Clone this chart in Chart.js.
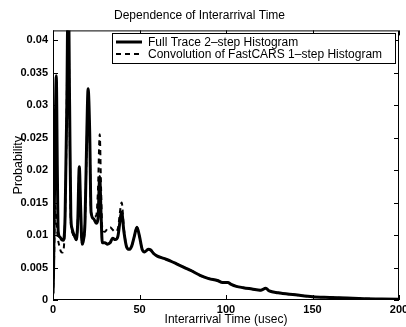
<!DOCTYPE html>
<html>
<head>
<meta charset="utf-8">
<script src="https://cdn.jsdelivr.net/npm/chart.js@4"></script>
<style>
  html, body { margin: 0; padding: 0; background: #fff; }
</style>
</head>
<body>
<canvas id="chart" width="406" height="327"></canvas>
<script>
const fullTraceX = [0, 0.3, 1.2, 1.9, 2.5, 3, 4, 5, 6, 7, 8, 8.8, 9.6, 10.3, 11, 12.5, 13.5, 14.3, 15.2, 16, 16.8, 17.6, 18.5, 19.5, 20.3, 21.2, 22, 23.5, 25, 26, 27, 27.8, 28.5, 30, 31.5, 33, 34.5, 36, 37.5, 39.7, 41, 42.5, 44, 45.5, 47, 48.5, 50, 51.5, 53, 55, 56.5, 58, 60, 64, 68, 72, 76, 80, 85, 90, 95, 98, 101, 103, 106, 110, 115, 120, 123, 125, 130, 140, 150, 160, 170, 180, 190, 200];
const fullTraceY = [0.001, 0.004, 0.024, 0.0345, 0.02, 0.0105, 0.0097, 0.0093, 0.0092, 0.013, 0.03, 0.05, 0.03, 0.013, 0.011, 0.0098, 0.0093, 0.012, 0.0205, 0.014, 0.0087, 0.0092, 0.012, 0.025, 0.0325, 0.026, 0.0135, 0.0125, 0.0118, 0.0125, 0.019, 0.013, 0.0088, 0.0088, 0.0086, 0.0088, 0.0095, 0.0093, 0.0098, 0.0135, 0.0105, 0.0082, 0.0078, 0.0083, 0.0098, 0.0112, 0.0098, 0.0078, 0.0074, 0.0078, 0.0077, 0.0072, 0.0068, 0.0064, 0.006, 0.0055, 0.005, 0.0045, 0.0038, 0.0033, 0.003, 0.0027, 0.0027, 0.0024, 0.0021, 0.0019, 0.0017, 0.0015, 0.0018, 0.0014, 0.0011, 0.0008, 0.0005, 0.0004, 0.0003, 0.0002, 0.00015, 0.0001];

const convX = [0, 0.6, 1.2, 2, 2.8, 3.5, 4.5, 5.5, 6.5, 7.5, 8.8, 9.6, 10.3, 11, 12.5, 13.5, 14.3, 15.2, 16, 16.8, 17.6, 18.5, 19.5, 20.3, 21.2, 22, 23.5, 25, 26, 27, 27.8, 28.5, 30, 31.5, 33, 34.5, 36, 37.5, 39.7, 41, 42.5, 44, 45.5, 47, 48.5, 50, 51.5, 53, 55, 56.5, 58, 60, 64, 68, 72, 76, 80, 85, 90, 95, 98, 101, 103, 106, 110, 115, 120, 123, 125, 130, 140, 150, 160, 170, 180, 190, 200];
const convY = [0.0005, 0.006, 0.0145, 0.012, 0.0095, 0.0085, 0.0075, 0.0073, 0.009, 0.02, 0.046, 0.028, 0.012, 0.0105, 0.0095, 0.0092, 0.012, 0.02, 0.013, 0.0085, 0.009, 0.012, 0.024, 0.031, 0.025, 0.0135, 0.0128, 0.013, 0.017, 0.0255, 0.017, 0.011, 0.0105, 0.011, 0.0112, 0.0108, 0.0105, 0.011, 0.015, 0.011, 0.0082, 0.0078, 0.0083, 0.0098, 0.0112, 0.0098, 0.0078, 0.0074, 0.0078, 0.0077, 0.0072, 0.0068, 0.0064, 0.006, 0.0055, 0.005, 0.0045, 0.0038, 0.0033, 0.003, 0.0027, 0.0027, 0.0024, 0.0021, 0.0019, 0.0017, 0.0015, 0.0018, 0.0014, 0.0011, 0.0008, 0.0005, 0.0004, 0.0003, 0.0002, 0.00015, 0.0001];

const xTicks = [0, 50, 100, 150, 200];
const yTicks = [0, 0.005, 0.01, 0.015, 0.02, 0.025, 0.03, 0.035, 0.04];
const yTickLabels = ['0', '0.005', '0.01', '0.015', '0.02', '0.025', '0.03', '0.035', '0.04'];

const seriesLabels = ['Full Trace 2\u2013step Histogram', 'Convolution of FastCARS 1\u2013step Histogram'];

const FONT = 'Liberation Sans, Arial, Helvetica, sans-serif';

const toPoints = (xs, ys) => xs.map((x, i) => ({ x, y: ys[i] }));

// box round the plot with matlab style inward ticks, plus the legend
const framePlugin = {
  id: 'frame',
  afterDraw(chart) {
    const { ctx, chartArea: a, scales } = chart;
    ctx.save();
    ctx.strokeStyle = '#000';
    ctx.lineWidth = 1;
    ctx.strokeRect(a.left + 0.5, a.top + 0.5, a.right - a.left - 1, a.bottom - a.top - 1);
    ctx.beginPath();
    xTicks.forEach((v) => {
      const px = Math.round(scales.x.getPixelForValue(v)) + 0.5;
      ctx.moveTo(px, a.bottom); ctx.lineTo(px, a.bottom - 5);
      ctx.moveTo(px, a.top); ctx.lineTo(px, a.top + 5);
    });
    yTicks.forEach((v) => {
      const py = Math.round(scales.y.getPixelForValue(v)) + 0.5;
      ctx.moveTo(a.left, py); ctx.lineTo(a.left + 5, py);
      ctx.moveTo(a.right, py); ctx.lineTo(a.right - 5, py);
    });
    ctx.stroke();

    // legend
    const lx = 112, ly = 33, lw = 283, lh = 30;
    ctx.fillStyle = '#fff';
    ctx.fillRect(lx, ly, lw, lh);
    ctx.strokeRect(lx + 0.5, ly + 0.5, lw, lh);
    ctx.font = '12px ' + FONT;
    ctx.fillStyle = '#000';
    ctx.textBaseline = 'middle';
    chart.data.datasets.forEach((ds, i) => {
      const y = ly + 9 + i * 12;
      ctx.lineWidth = ds.borderWidth;
      ctx.setLineDash(ds.borderDash || []);
      ctx.beginPath();
      ctx.moveTo(lx + 4, y); ctx.lineTo(lx + 30, y);
      ctx.stroke();
      ctx.setLineDash([]);
      ctx.fillText(ds.label, lx + 36, y + 1);
    });
    ctx.restore();
  },
};

new Chart(document.getElementById('chart'), {
  type: 'line',
  data: {
    datasets: [
      {
        label: seriesLabels[0],
        data: toPoints(fullTraceX, fullTraceY),
        borderColor: '#000',
        borderWidth: 3,
        pointRadius: 0,
        cubicInterpolationMode: 'monotone',
      },
      {
        label: seriesLabels[1],
        data: toPoints(convX, convY),
        borderColor: '#000',
        borderWidth: 2,
        borderDash: [5, 4],
        pointRadius: 0,
        cubicInterpolationMode: 'monotone',
      },
    ],
  },
  options: {
    responsive: false,
    animation: false,
    devicePixelRatio: 1,
    layout: { padding: { left: 0, right: 7, top: 0, bottom: 0 } },
    plugins: {
      legend: { display: false },
      tooltip: { enabled: false },
      title: {
        display: true,
        text: 'Dependence of Interarrival Time',
        color: '#000',
        font: { family: FONT, size: 12, weight: 'normal' },
        padding: { top: 8, bottom: 8 },
      },
    },
    scales: {
      x: {
        type: 'linear',
        min: 0,
        max: 200,
        grid: { display: false, drawTicks: false },
        border: { display: false },
        afterBuildTicks: (s) => { s.ticks = xTicks.map((value) => ({ value })); },
        afterFit: (s) => { s.height = 27; s.paddingLeft = 0; s.paddingRight = 0; },
        ticks: {
          color: '#000',
          padding: 3,
          maxRotation: 0,
          font: { family: FONT, size: 11, weight: 'bold' },
        },
        title: {
          display: true,
          text: 'Interarrival Time (usec)',
          color: '#000',
          font: { family: FONT, size: 12 },
          padding: { top: 0, bottom: 0 },
        },
      },
      y: {
        type: 'linear',
        min: 0,
        max: 0.0415,
        grid: { display: false, drawTicks: false },
        border: { display: false },
        afterBuildTicks: (s) => { s.ticks = yTicks.map((value) => ({ value })); },
        afterFit: (s) => { s.width = 53; s.paddingTop = 0; s.paddingBottom = 0; },
        ticks: {
          color: '#000',
          padding: 5,
          font: { family: FONT, size: 11, weight: 'bold' },
          callback: (v) => yTickLabels[yTicks.indexOf(v)],
        },
        title: {
          display: true,
          text: 'Probability',
          color: '#000',
          font: { family: FONT, size: 12.5 },
          padding: { top: 11, bottom: 0 },
        },
      },
    },
  },
  plugins: [framePlugin],
});
</script>
</body>
</html>
